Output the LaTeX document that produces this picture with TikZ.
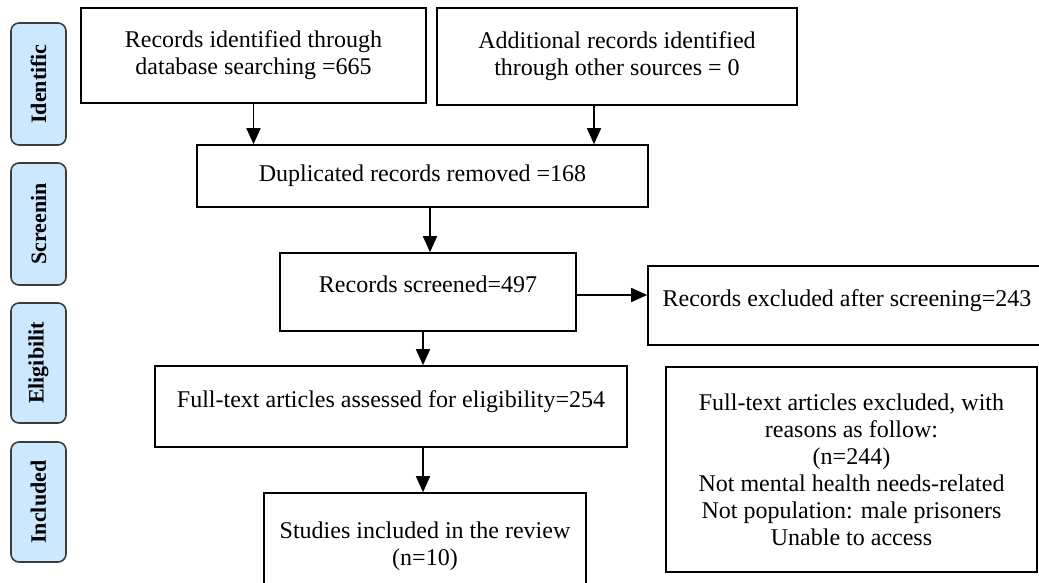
\documentclass[tikz,border=0pt]{standalone}
\usepackage{fontspec}
\setmainfont{Liberation Serif}
\usetikzlibrary{arrows.meta}
\definecolor{tabblue}{RGB}{204,232,255}
\definecolor{tabline}{RGB}{60,60,60}
\begin{document}
\begin{tikzpicture}[x=0.5pt,y=-0.5pt,
		box/.style={draw,line width=0.8pt,inner sep=0pt,align=center,font=\fontsize{12}{13.5}\selectfont},
		raised/.style={text depth=7.5pt},
		tab/.style={draw=tabline,fill=tabblue,line width=0.8pt,rounded corners=4pt,rotate=90,inner sep=0pt,minimum width=61pt,minimum height=27.5pt,font=\fontsize{11}{13.5}\selectfont\bfseries},
		>={Triangle[length=8pt,width=7pt]}]
		\useasboundingbox (0,0) rectangle (1039,583);
		\fill[white] (0,0) rectangle (1039,583);
		% side tabs
		\node[tab] (tid) at (38.5,84) {Identific};
		\node[tab] (tsc) at (38.5,224) {Screenin};
		\node[tab,minimum width=60pt] (tel) at (38.5,363) {Eligibilit};
		\node[tab,minimum width=60pt] (tin) at (38.5,502) {Included};
		% boxes
		\node[box,minimum width=172.5pt,minimum height=47.5pt] (rec) at (253.5,55.5) {Records identified through\\database searching =665};
		\node[box,minimum width=180pt,minimum height=48.5pt] (add) at (617,56.5) {Additional records identified\\through other sources = 0};
		\node[box,minimum width=225.5pt,minimum height=31pt] (dup) at (422.5,176) {Duplicated records removed =168};
		\node[box,raised,minimum width=148pt,minimum height=39pt] (scr) at (428,292) {Records screened=497};
		\node[box,raised,minimum width=199pt,minimum height=39.5pt] (exs) at (847,305.5) {Records excluded after screening=243};
		\node[box,raised,minimum width=236pt,minimum height=40.5pt] (full) at (391,406.5) {Full-text articles assessed for eligibility=254};
		\node[box,minimum width=185.5pt,minimum height=102.5pt] (exf) at (851.5,469.5) {Full-text articles excluded, with\\reasons as follow:\\(n=244)\\Not mental health needs-related\\Not population: male prisoners\\Unable to access};
		\node[box,minimum width=161pt,minimum height=53.5pt] (inc) at (425,546.5) {Studies included in the review\\(n=10)};
		% arrows
		\draw[->,line width=0.8pt] (rec.south) -- (dup.north -| rec.south);
		\draw[->,line width=0.8pt] (add.south -| 594,0) -- (dup.north -| 594,0);
		\draw[->,line width=0.8pt] (dup.south -| 430,0) -- (scr.north -| 430,0);
		\draw[->,line width=0.8pt] (scr.east |- 0,295) -- (exs.west |- 0,295);
		\draw[->,line width=0.8pt] (scr.south -| 423,0) -- (full.north -| 423,0);
		\draw[->,line width=0.8pt] (full.south -| 423,0) -- (inc.north -| 423,0);
	\end{tikzpicture}
\end{document}
